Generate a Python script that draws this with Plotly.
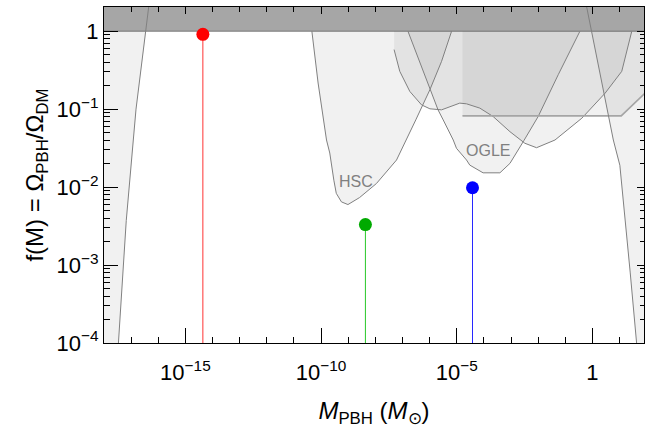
import numpy as np
import plotly.graph_objects as go

# ---------------- data (log10 values) ----------------
# left evaporation bound (excluded region to the left)
evap_logM = [-16.25, -16.35, -16.45, -16.82, -16.92, -17.18, -17.47, -17.55]
evap_logf = [0.6, 0.31, 0.0, -1.0, -1.396, -2.43, -4.01, -4.3]

# HSC
hsc_logM = [-10.34, -10.11, -9.80, -9.68, -9.53, -9.44, -9.25, -9.01, -8.58, -7.96,
            -7.22, -6.88, -6.51, -5.99, -5.56, -5.19]
hsc_logf = [0.0, -0.665, -1.396, -1.563, -1.911, -2.08, -2.19, -2.224, -2.134, -1.954,
            -1.653, -1.396, -1.138, -0.751, -0.387, 0.0]

# OGLE
ogle_logM = [-6.80, -5.99, -5.69, -5.50, -5.13, -5.01, -4.64, -4.52, -4.03, -3.41,
             -3.04, -2.52, -2.00, -1.26, -0.46]
ogle_logf = [0.0, -0.751, -1.009, -1.138, -1.396, -1.503, -1.653, -1.718, -1.817, -1.817,
             -1.696, -1.40, -1.095, -0.558, 0.0]

# wide microlensing-type bound
wide_logM = [-7.31, -7.10, -6.73, -6.30, -5.99, -5.56, -4.89, -4.64, -4.15, -3.66,
             -3.04, -2.49, -2.06, -1.38, -0.39, 0.47, 1.08, 1.45]
wide_logf = [-0.236, -0.515, -0.773, -0.945, -0.996, -1.009, -0.923, -0.932, -0.987, -1.095,
             -1.289, -1.438, -1.495, -1.396, -1.116, -0.794, -0.515, 0.0]

# flat bound
flat_logM = [-4.79, 1.06, 1.95, 2.3]
flat_logf = [-1.087, -1.087, -0.79, -0.67]

# right bound (excluded region to the right)
right_logM = [-0.27, -0.03, 0.77, 1.01, 1.14, 1.39, 1.63, 1.70]
right_logf = [0.41, 0.0, -1.396, -1.72, -2.17, -3.09, -4.01, -4.3]

# benchmark points
pt_M = [4.4e-15, 4.3e-9, 3.8e-5]
pt_f = [0.91, 0.0033, 0.0098]
pt_colors = ["rgb(255,0,0)", "rgb(0,170,0)", "rgb(0,0,255)"]
stem_colors = ["rgb(255,50,50)", "rgb(40,200,40)", "rgb(40,40,255)"]

# ticks
xtick_vals = [1e-15, 1e-10, 1e-5, 1]
xtick_text = ["10<sup>\u221215</sup>", "10<sup>\u221210</sup>", "10<sup>\u22125</sup>", "1"]
ytick_vals = [1e-4, 1e-3, 1e-2, 1e-1, 1]
ytick_text = ["10<sup>\u22124</sup>", "10<sup>\u22123</sup>", "10<sup>\u22122</sup>",
              "10<sup>\u22121</sup>", "1"]

labels = [("HSC", -8.70, -1.933), ("OGLE", -3.85, -1.537)]

# ---------------- figure ----------------
XMIN, XMAX = -18.0, 1.9
YMIN, YMAX = -4.0, 0.31
FILL = "rgba(0,0,0,0.055)"
EDGE = "rgb(128,128,128)"

fig = go.Figure()


def pw(a):
    return list(10.0 ** np.asarray(a, dtype=float))


def add_region(xs, ys, close_x, close_y):
    fig.add_trace(go.Scatter(x=pw(list(xs) + close_x), y=pw(list(ys) + close_y),
                             mode="lines", fill="toself", fillcolor=FILL,
                             line=dict(width=0), hoverinfo="skip", showlegend=False))


def add_edge(xs, ys, color=EDGE, width=1.0):
    fig.add_trace(go.Scatter(x=pw(xs), y=pw(ys), mode="lines",
                             line=dict(color=color, width=width),
                             hoverinfo="skip", showlegend=False))


# fills (capped at f = 1, the band covers above)
ev = [(m, f) for m, f in zip(evap_logM, evap_logf) if f <= 0]
add_region([m for m, _ in ev], [f for _, f in ev], [-20, -20], [-5, 0])
add_region(hsc_logM, hsc_logf, [], [])
add_region(ogle_logM, ogle_logf, [], [])
add_region(wide_logM, wide_logf, [wide_logM[0]], [0])
add_region(flat_logM, flat_logf, [flat_logM[-1], flat_logM[0]], [0, 0])
rt = [(m, f) for m, f in zip(right_logM, right_logf) if f <= 0]
add_region([m for m, _ in rt], [f for _, f in rt], [3, 3], [-5, 0])

# edges
add_edge(hsc_logM, hsc_logf)
add_edge(ogle_logM, ogle_logf)
add_edge(wide_logM, wide_logf)
add_edge(flat_logM, flat_logf, color="rgb(165,165,165)", width=1.6)
add_edge(right_logM, right_logf)

# stems + points
for m, f, c, sc in zip(pt_M, pt_f, pt_colors, stem_colors):
    fig.add_trace(go.Scatter(x=[m, m], y=[f, 1e-5], mode="lines",
                             line=dict(color=sc, width=1), hoverinfo="skip", showlegend=False))
fig.add_trace(go.Scatter(x=pt_M, y=pt_f, mode="markers",
                         marker=dict(color=pt_colors, size=13, line=dict(width=0)),
                         hoverinfo="skip", showlegend=False))

# band above f = 1
fig.add_shape(type="rect", xref="paper", x0=0, x1=1, yref="y", y0=1, y1=10,
              fillcolor="rgb(166,166,166)", line=dict(width=0), layer="below")
fig.add_shape(type="line", xref="paper", x0=0, x1=1, yref="y", y0=1, y1=1,
              line=dict(color="rgb(120,120,120)", width=1), layer="below")

# left evaporation line drawn over band
add_edge(evap_logM, evap_logf)

# invisible trace so the top/right frame axes get drawn
fig.add_trace(go.Scatter(x=[1e-10], y=[1e-2], xaxis="x2", yaxis="y2", mode="markers",
                         marker=dict(size=1, opacity=0), hoverinfo="skip", showlegend=False))

for txt, lx, ly in labels:
    fig.add_annotation(x=lx, y=ly, text=txt, showarrow=False,
                       font=dict(size=16, color="rgb(128,128,128)"))

minor_x = [10.0 ** k for k in range(-18, 2) if k % 5 != 0]
minor_y = [j * 10.0 ** k for k in range(-4, 1) for j in range(2, 10)]

axis_common = dict(showline=True, linecolor="black", linewidth=1, mirror=True,
                   ticks="inside", tickcolor="black", tickwidth=1,
                   showgrid=False, zeroline=False,
                   tickfont=dict(size=22, color="black"))

fig.update_layout(
    xaxis=dict(type="log", range=[XMIN, XMAX], tickmode="array",
               tickvals=xtick_vals, ticktext=xtick_text, ticklen=15, ticklabelstandoff=10,
               minor=dict(tickmode="array", tickvals=minor_x, ticks="inside",
                          ticklen=6, tickcolor="black", showgrid=False),
               title=dict(text="<i>M</i><sub>PBH</sub> (<i>M</i><sub>\u2299</sub>)",
                          font=dict(size=24, color="black"), standoff=17),
               **axis_common),
    yaxis=dict(type="log", range=[YMIN, YMAX], tickmode="array",
               tickvals=ytick_vals, ticktext=ytick_text, ticklen=14,
               minor=dict(tickmode="array", tickvals=minor_y, ticks="inside",
                          ticklen=6, tickcolor="black", showgrid=False),
               title=dict(text="f(M) = \u03a9<sub>PBH</sub>/\u03a9<sub>DM</sub>",
                          font=dict(size=24, color="black"), standoff=6),
               **axis_common),
    xaxis2=dict(type="log", range=[XMIN, XMAX], overlaying="x", side="top",
                tickmode="array", tickvals=xtick_vals, ticks="inside", ticklen=7,
                tickcolor="black", showticklabels=False, showgrid=False, zeroline=False,
                showline=False,
                minor=dict(tickmode="array", tickvals=minor_x, ticks="inside",
                           ticklen=5, tickcolor="black", showgrid=False)),
    yaxis2=dict(type="log", range=[YMIN, YMAX], overlaying="y", side="right",
                tickmode="array", tickvals=ytick_vals, ticks="inside", ticklen=7,
                tickcolor="black", showticklabels=False, showgrid=False, zeroline=False,
                showline=False,
                minor=dict(tickmode="array", tickvals=minor_y, ticks="inside",
                           ticklen=4, tickcolor="black", showgrid=False)),
    width=645, height=428,
    margin=dict(l=104, r=1, t=7, b=85, autoexpand=False),
    paper_bgcolor="white", plot_bgcolor="white",
    font=dict(family="Liberation Sans, Arial, sans-serif", color="black"),
    showlegend=False)

fig.write_html("out.html")
